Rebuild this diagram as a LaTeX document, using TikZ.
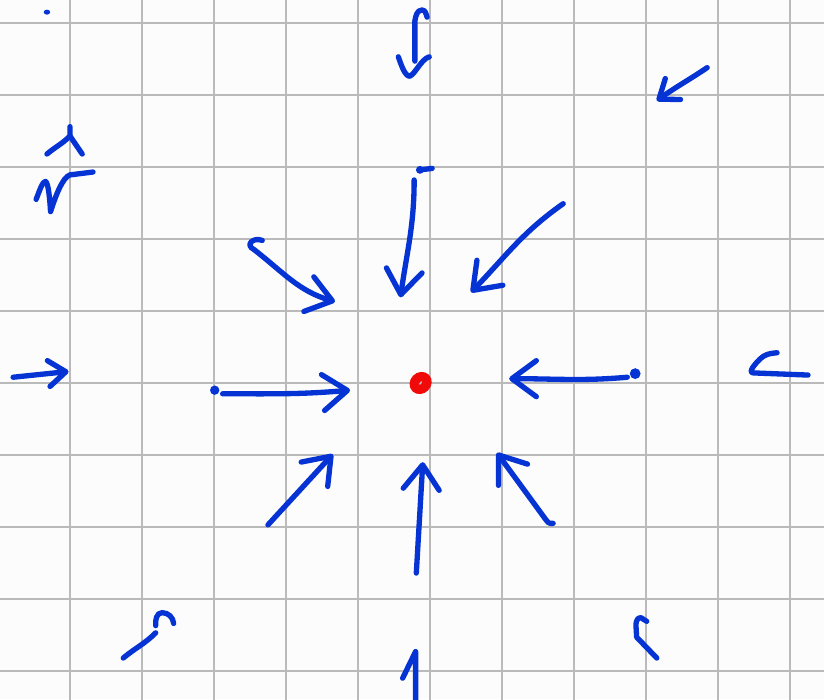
\documentclass[tikz,border=0pt]{standalone}
\usepackage{xcolor}
\usetikzlibrary{arrows.meta}
\definecolor{pen}{HTML}{0533D4}
\definecolor{sinkred}{HTML}{F00A0A}
\definecolor{gridline}{HTML}{BABABA}
\definecolor{paper}{HTML}{FCFCFC}

\begin{document}
\begin{tikzpicture}[
    % --- pen strokes -------------------------------------------------
    ink/.style={draw=pen,line width=2.1pt,line cap=round,line join=round},
    vec/.style={ink,-{Straight Barb[length=3.4mm,width=5mm,round]}},
    vecsmall/.style={ink,-{Straight Barb[length=2.4mm,width=3.6mm,round]}},
    blob/.style={fill=pen},
    % --- paper -------------------------------------------------------
    gridln/.style={draw=gridline,line width=1pt},
  ]

% =====================================================================
%  Squared paper (1 square = 1 cm)
% =====================================================================
\useasboundingbox (-5.972,-4.389) rectangle (5.472,5.319);
\clip (-5.972,-4.389) rectangle (5.472,5.319);
\fill[paper] (-5.972,-4.389) rectangle (5.472,5.319);
\foreach \x in {-5,...,5}
  \draw[gridln] (\x,-4.4) -- (\x,5.4);
\foreach \y in {-4,...,5}
  \draw[gridln] (-6,\y) -- (5.5,\y);

% ---- fixed point ----------------------------------------------------
\coordinate (O) at (-0.13,0.0);
\draw[sinkred,line width=0.13cm] (O) ellipse[x radius=0.095,y radius=0.08,rotate=45];

% =====================================================================
%  Top row
% =====================================================================
\fill[blob] (-5.32,5.15) ellipse[x radius=0.045,y radius=0.035];

% caret + squiggle (left)
\draw[ink] (-5.32,3.18) to[out=40,in=-135] (-5.0,3.43) -- (-5.0,3.56);
\draw[ink] (-5.0,3.43) -- (-4.83,3.18);
\draw[ink] (-5.47,2.55) .. controls (-5.42,2.68) and (-5.38,2.80) .. (-5.34,2.80)
           .. controls (-5.30,2.78) and (-5.28,2.55) .. (-5.27,2.38)
           .. controls (-5.20,2.60) and (-5.10,2.86) .. (-5.00,2.89) -- (-4.68,2.93);

% top centre
\draw[ink] (-0.21,4.47) -- (-0.21,5.03) to[out=80,in=180] (-0.11,5.18) to[out=0,in=110] (-0.04,5.08);
\draw[ink] (-0.44,4.53) .. controls (-0.40,4.42) and (-0.35,4.26) .. (-0.28,4.26)
           .. controls (-0.20,4.30) and (-0.12,4.50) .. (-0.01,4.53);

% top right
\draw[vecsmall] (3.85,4.38) to[out=-146,in=36] (3.15,3.92);

% =====================================================================
%  Inner ring (towards the fixed point)
% =====================================================================
\draw[ink] (-0.14,2.96) -- (0.03,2.98);
\fill[blob] (-0.14,2.96) circle (0.055);
\draw[vec] (-0.22,2.82) to[out=-90,in=82] (-0.41,1.19);

\draw[vec] (-2.33,1.98) .. controls (-2.45,2.03) and (-2.58,1.92) .. (-2.44,1.85)
           to[out=-38,in=164] (-1.32,1.13);

\draw[vec] (1.85,2.49) to[out=-145,in=46] (0.57,1.26);

\fill[blob] (-2.99,-0.10) circle (0.065);
\draw[vec] (-2.88,-0.15) to[out=0,in=185] (-1.11,-0.10);

\fill[blob] (2.85,0.13) circle (0.075);
\draw[vec] (2.74,0.08) to[out=185,in=0] (1.10,0.06);

\draw[vec] (-2.25,-1.97) -- (-1.35,-0.99);
\draw[vec] (-0.19,-2.64) -- (-0.10,-1.10);
\draw[vec] (1.71,-1.95) .. controls (1.65,-1.95) .. (1.61,-1.90) -- (0.93,-0.97);

% =====================================================================
%  Outer ring
% =====================================================================
\draw[vecsmall] (-5.79,0.08) -- (-5.02,0.16);

\draw[ink] (5.25,0.11) -- (4.49,0.14) to[out=175,in=-135] (4.58,0.33) to[out=45,in=185] (4.82,0.42);

\draw[ink] (-4.26,-3.82) to[out=40,in=-135] (-3.81,-3.47);
\draw[ink] (-3.81,-3.37) to[out=95,in=180] (-3.72,-3.19) to[out=0,in=95] (-3.56,-3.34);

\draw[ink] (-0.38,-4.10) -- (-0.20,-3.73) -- (-0.20,-4.45);

\draw[ink] (3.15,-3.82) -- (2.87,-3.53) -- (2.86,-3.36) to[out=90,in=170] (2.93,-3.26) -- (3.01,-3.31);

\end{tikzpicture}
\end{document}
